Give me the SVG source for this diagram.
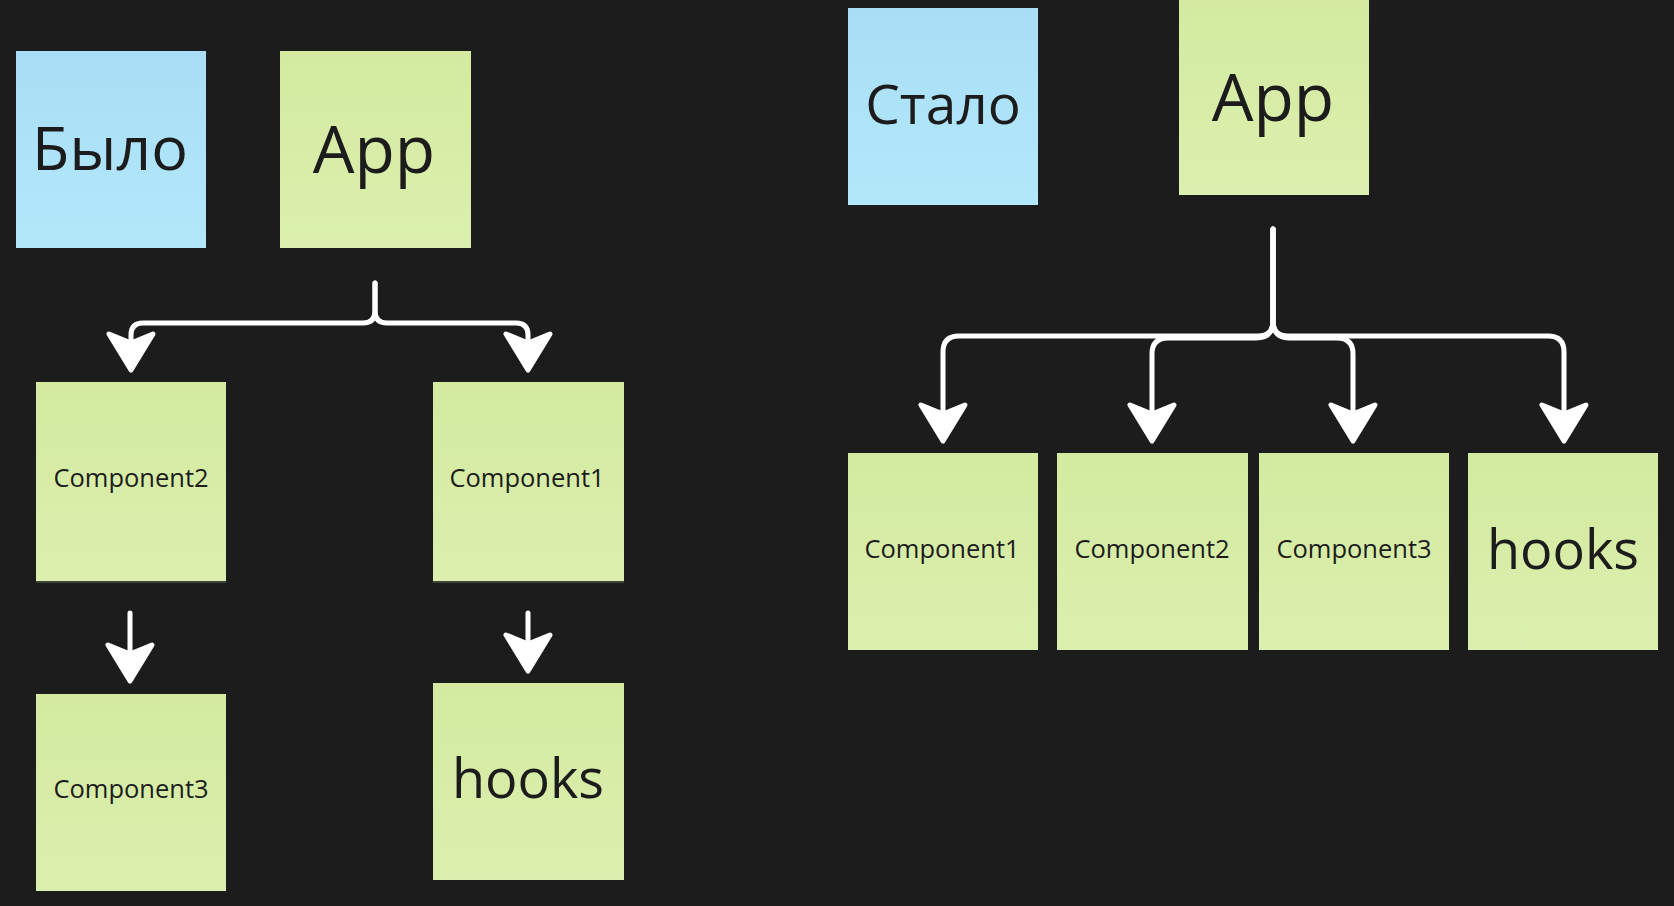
<svg xmlns="http://www.w3.org/2000/svg" xmlns:xlink="http://www.w3.org/1999/xlink" width="1674" height="906" viewBox="0 0 1674 906">
<defs>
<linearGradient id="gGreen" x1="0" y1="0" x2="0" y2="1">
<stop offset="0" stop-color="#d3eaa0"/>
<stop offset="1" stop-color="#dbf0ae"/>
</linearGradient>
<linearGradient id="gBlue" x1="0" y1="0" x2="0" y2="1">
<stop offset="0" stop-color="#a8def5"/>
<stop offset="1" stop-color="#b3e8fb"/>
</linearGradient>
<path id="ah" d="M0,0 L-22,-36 L0,-27 L22,-36 Z" fill="#ffffff" stroke="#ffffff" stroke-width="5" stroke-linejoin="round"/>
<style>
.green{fill:url(#gGreen)}
.blue{fill:url(#gBlue)}
.shadow{fill:#3d4232}
.lbl{font-family:"Open Sans","Noto Sans","DejaVu Sans",sans-serif;fill:#1c1c1c;text-anchor:middle}
.small{font-size:25.5px}
.big{font-size:54px}
.app{font-size:66px}
.title{font-size:61px}
.conn{fill:none;stroke:#ffffff;stroke-width:5;stroke-linecap:round;stroke-linejoin:round}
</style>
</defs>
<rect width="1674" height="906" fill="#1c1c1c"/>

<g id="node-bylo">
<rect x="16" y="51" width="190" height="197" class="blue"/>
<text x="110" y="170" class="lbl title">Было</text>
</g>
<g id="node-app-left">
<rect x="280" y="51" width="191" height="197" class="green"/>
<text x="374" y="173" class="lbl app">App</text>
</g>
<g id="node-component2-left">
<rect x="36" y="581" width="190" height="2" class="shadow"/>
<rect x="36" y="382" width="190" height="199" class="green"/>
<text x="131" y="487" class="lbl small">Component2</text>
</g>
<g id="node-component1-left">
<rect x="433" y="581" width="191" height="2" class="shadow"/>
<rect x="433" y="382" width="191" height="199" class="green"/>
<text x="527" y="487" class="lbl small">Component1</text>
</g>
<g id="node-component3-left">
<rect x="36" y="694" width="190" height="197" class="green"/>
<text x="131" y="798" class="lbl small">Component3</text>
</g>
<g id="node-hooks-left">
<rect x="433" y="683" width="191" height="197" class="green"/>
<text x="528" y="798" class="lbl big">hooks</text>
</g>

<g id="node-stalo">
<rect x="848" y="8" width="190" height="197" class="blue"/>
<text x="943" y="124" class="lbl" style="font-size:55px">Стало</text>
</g>
<g id="node-app-right">
<rect x="1179" y="-2" width="190" height="197" class="green"/>
<text x="1273" y="121" class="lbl app">App</text>
</g>
<g id="node-component1-right">
<rect x="848" y="453" width="190" height="197" class="green"/>
<text x="942" y="558" class="lbl small">Component1</text>
</g>
<g id="node-component2-right">
<rect x="1057" y="453" width="191" height="197" class="green"/>
<text x="1152" y="558" class="lbl small">Component2</text>
</g>
<g id="node-component3-right">
<rect x="1259" y="453" width="190" height="197" class="green"/>
<text x="1354" y="558" class="lbl small">Component3</text>
</g>
<g id="node-hooks-right">
<rect x="1468" y="453" width="190" height="197" class="green"/>
<text x="1563" y="569" class="lbl big">hooks</text>
</g>

<g id="connectors">
<path class="conn" d="M375,283 V311 Q375,323 363,323 H143 Q131,323 131,335 V350"/>
<path class="conn" d="M375,283 V311 Q375,323 387,323 H516 Q528,323 528,335 V350"/>
<use xlink:href="#ah" x="131" y="370"/>
<use xlink:href="#ah" x="528" y="370"/>

<path class="conn" d="M130,613 V660"/>
<use xlink:href="#ah" x="130" y="681"/>
<path class="conn" d="M528,613 V650"/>
<use xlink:href="#ah" x="528" y="671"/>

<path class="conn" d="M1273,229 V321 Q1273,336 1258,336 H959 Q943,336 943,352 V420"/>
<path class="conn" d="M1273,229 V321 Q1273,338 1256,338 H1168 Q1152,338 1152,354 V420"/>
<path class="conn" d="M1273,229 V321 Q1273,338 1290,338 H1337 Q1353,338 1353,354 V420"/>
<path class="conn" d="M1273,229 V321 Q1273,336 1288,336 H1548 Q1564,336 1564,352 V420"/>
<use xlink:href="#ah" x="943" y="441"/>
<use xlink:href="#ah" x="1152" y="441"/>
<use xlink:href="#ah" x="1353" y="441"/>
<use xlink:href="#ah" x="1564" y="441"/>
</g>
</svg>
